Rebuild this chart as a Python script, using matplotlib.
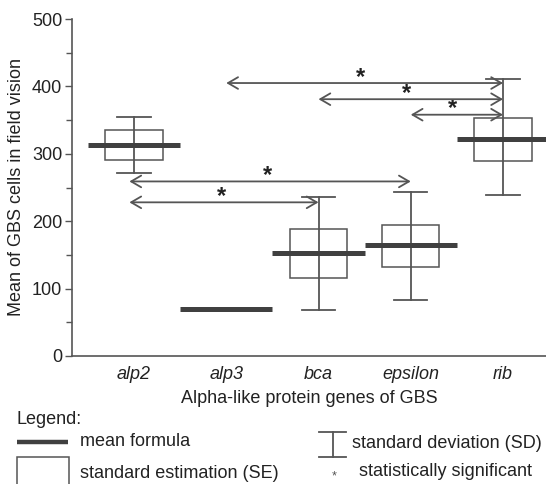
import numpy as np
import matplotlib.pyplot as plt
from matplotlib.lines import Line2D
from matplotlib.patches import Rectangle
from matplotlib.ticker import MultipleLocator

plt.rcParams['font.family'] = ['Liberation Sans', 'DejaVu Sans']

#%% data
genes = ['alp2', 'alp3', 'bca', 'epsilon', 'rib']
mean_vals = [313, 70, 153, 164, 322]
se_low = [291, np.nan, 116, 132, 290]
se_high = [335, np.nan, 188, 194, 353]
sd_low = [272, np.nan, 68, 83, 239]
sd_high = [354, np.nan, 236, 243, 411]

# significance arrows: (from gene, to gene, y level)
sig_from = ['alp3', 'bca', 'epsilon', 'alp2', 'alp2']
sig_to = ['rib', 'rib', 'rib', 'epsilon', 'bca']
sig_y = [405, 381, 358, 259, 228]

#%%
W, H = 546, 484
fig = plt.figure(figsize=(W / 100, H / 100), dpi=100)
ax = fig.add_axes([72 / W, 1 - 356 / H, 1 - 72 / W, (356 - 19) / H])

line_c = '#555555'
mean_c = '#404040'
txt_c = '#222222'
fs = 13

x = np.arange(len(genes))
for i in range(len(genes)):
    if not np.isnan(sd_low[i]):
        ax.plot([x[i], x[i]], [sd_low[i], sd_high[i]], color=line_c, lw=1.3, zorder=2)
        for v in (sd_low[i], sd_high[i]):
            ax.plot([x[i] - 0.18, x[i] + 0.18], [v, v], color=line_c, lw=1.3, zorder=2)
        ax.add_patch(Rectangle((x[i] - 0.31, se_low[i]), 0.62, se_high[i] - se_low[i],
                               facecolor='none', edgecolor=line_c, lw=1.1, zorder=2))
    ax.plot([x[i] - 0.5, x[i] + 0.5], [mean_vals[i], mean_vals[i]], color=mean_c,
            lw=3.6, solid_capstyle='butt', zorder=3)

for a, b, yv in zip(sig_from, sig_to, sig_y):
    xa, xb = genes.index(a), genes.index(b)
    ax.annotate('', xy=(xb, yv), xytext=(xa - 0.05 if a == 'alp2' else xa, yv),
                arrowprops=dict(arrowstyle='<->,head_length=0.6,head_width=0.35',
                                color=line_c, lw=1.3, shrinkA=0, shrinkB=0,
                                mutation_scale=12), zorder=4)
    ax.text((xa + xb) / 2 - 0.05, yv - 1, '*', ha='center', va='baseline',
            fontsize=17, fontweight='bold', color=txt_c)

ax.set_xlim(-0.672, 4.466)
ax.set_ylim(0, 500)
ax.set_xticks(x)
ax.set_xticklabels(genes, fontstyle='italic', fontsize=fs, color=txt_c)
ax.tick_params(axis='x', length=0, pad=7)
ax.yaxis.set_major_locator(MultipleLocator(100))
ax.yaxis.set_minor_locator(MultipleLocator(50))
ax.tick_params(axis='y', which='major', length=5, width=1, color=line_c,
               labelsize=fs, labelcolor=txt_c, pad=2)
ax.tick_params(axis='y', which='minor', length=4, width=1, color=line_c)
for s in ('top', 'right'):
    ax.spines[s].set_visible(False)
for s in ('left', 'bottom'):
    ax.spines[s].set_color(line_c)
    ax.spines[s].set_linewidth(1.2)

ax.set_ylabel('Mean of GBS cells in field vision', fontsize=fs, color=txt_c, labelpad=5)
ax.set_xlabel('Alpha-like protein genes of GBS', fontsize=fs, color=txt_c, labelpad=5)

#%% legend, drawn in figure pixels
def fx(px):
    return px / W

def fy(py):
    return 1 - py / H

fig.text(fx(17), fy(420), 'Legend:', fontsize=fs, color=txt_c, va='center')
fig.add_artist(Line2D([fx(17), fx(68)], [fy(442), fy(442)], color=mean_c, lw=3.2,
                      solid_capstyle='butt'))
fig.text(fx(80), fy(442), 'mean formula', fontsize=fs, color=txt_c, va='center')
fig.add_artist(Rectangle((fx(17), fy(490)), fx(52), (490 - 457) / H,
                         facecolor='none', edgecolor=line_c, lw=1.1))
fig.text(fx(80), fy(473), 'standard estimation (SE)', fontsize=fs, color=txt_c, va='center')

fig.add_artist(Line2D([fx(333), fx(333)], [fy(432), fy(457)], color=line_c, lw=1.3))
fig.add_artist(Line2D([fx(319), fx(346)], [fy(432), fy(432)], color=line_c, lw=1.3))
fig.add_artist(Line2D([fx(319), fx(346)], [fy(457), fy(457)], color=line_c, lw=1.3))
fig.text(fx(352), fy(443), 'standard deviation (SD)', fontsize=fs, color=txt_c, va='center')
fig.text(fx(334), fy(476), '*', fontsize=9, color='#555555', ha='center', va='center')
fig.text(fx(359), fy(472), 'statistically significant', fontsize=fs, color=txt_c, va='center')

fig.savefig('out.png', dpi=100)
